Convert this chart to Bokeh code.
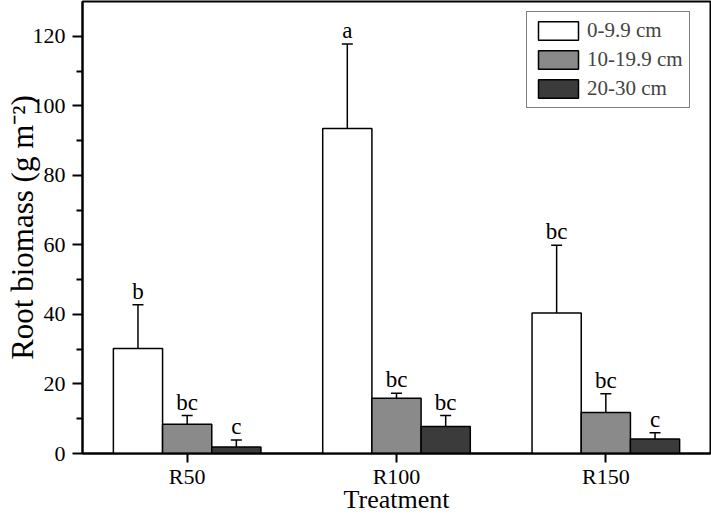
from bokeh.plotting import figure
from bokeh.models import ColumnDataSource, FactorRange, Range1d, FixedTicker, Legend, LegendItem
from bokeh.core.properties import value
from bokeh.transform import dodge
from bokeh.embed import file_html
from bokeh.resources import INLINE

treatments = ["R50", "R100", "R150"]
depths = ["0-9.9 cm", "10-19.9 cm", "20-30 cm"]
biomass_0_10 = [30.2, 93.5, 40.4]
biomass_10_20 = [8.4, 15.9, 11.8]
biomass_20_30 = [1.9, 7.8, 4.2]
se_0_10 = [12.6, 24.3, 19.5]
se_10_20 = [2.5, 1.4, 5.4]
se_20_30 = [2.0, 3.1, 1.8]
letters_0_10 = ["b", "a", "bc"]
letters_10_20 = ["bc", "bc", "bc"]
letters_20_30 = ["c", "bc", "c"]
y_ticks = [0, 20, 40, 60, 80, 100, 120]
y_minor = [10, 30, 50, 70, 90, 110]
colors = ["#ffffff", "#8a8a8a", "#3b3b3b"]

FONT = "Liberation Serif"

p = figure(width=711, height=516, output_backend="svg", toolbar_location=None,
           x_range=FactorRange(*treatments, range_padding=0), y_range=Range1d(0, 130),
           min_border_left=82, min_border_right=1, min_border_top=1, min_border_bottom=59)

series = [
    (biomass_0_10, se_0_10, letters_0_10),
    (biomass_10_20, se_10_20, letters_10_20),
    (biomass_20_30, se_20_30, letters_20_30),
]
offsets = [-0.235, 0.0, 0.235]
width = 0.235

items = []
for (vals, errs, lets), off, col, lab in zip(series, offsets, colors, depths):
    src = ColumnDataSource(dict(t=treatments, v=vals, top=[a + b for a, b in zip(vals, errs)], let=lets))
    xs = dodge("t", off, range=p.x_range)
    p.segment(x0=xs, y0="v", x1=xs, y1="top", source=src, line_color="black", line_width=1.5)
    p.scatter(x=xs, y="top", source=src, marker="dash", size=11, line_color="black", line_width=1.5)
    r = p.vbar(x=xs, top="v", bottom=0, width=width, source=src, fill_color=col,
               line_color="black", line_width=1.5)
    p.text(x=xs, y="top", text="let", source=src, text_align="center", text_baseline="bottom",
           y_offset=-1, text_font=value(FONT), text_font_size="23px", text_color="black")
    items.append(LegendItem(label=lab, renderers=[r]))

legend = Legend(items=items, location=(444, 345))
legend.label_text_font = FONT
legend.label_text_font_size = "21px"
legend.glyph_width = 50
legend.glyph_height = 23
legend.label_height = 23
legend.spacing = 4
legend.padding = 6
legend.margin = 0
legend.label_standoff = 4
legend.border_line_color = "black"
legend.border_line_width = 1.5
legend.background_fill_alpha = 1
p.add_layout(legend, "center")

p.xgrid.visible = False
p.ygrid.visible = False
p.outline_line_color = "black"
p.outline_line_width = 2
p.outline_line_alpha = 1

p.yaxis.ticker = FixedTicker(ticks=y_ticks, minor_ticks=y_minor)
p.yaxis.axis_label = "Root biomass (g m\u207b\u00b2)"
p.xaxis.axis_label = "Treatment"
for ax in (p.xaxis[0], p.yaxis[0]):
    ax.axis_line_width = 2
    ax.axis_line_color = "black"
    ax.major_tick_line_width = 2
    ax.minor_tick_line_width = 2
    ax.major_tick_line_color = "black"
    ax.minor_tick_line_color = "black"
    ax.major_tick_in = 0
    ax.minor_tick_in = 0
    ax.major_label_text_font = FONT
    ax.major_label_text_font_size = "22px"
    ax.major_label_text_color = "black"
    ax.axis_label_text_font = FONT
    ax.axis_label_text_font_style = "normal"
    ax.axis_label_text_color = "black"
p.yaxis.axis_label_text_font_size = "31px"
p.xaxis.axis_label_text_font_size = "26px"
p.yaxis.major_tick_out = 10
p.yaxis.minor_tick_out = 6
p.yaxis.major_label_standoff = 7
p.yaxis.axis_label_standoff = -10
p.xaxis.major_tick_out = 9
p.xaxis.major_label_standoff = 1
p.xaxis.axis_label_standoff = -7

open("out.html", "w").write(file_html(p, INLINE))
